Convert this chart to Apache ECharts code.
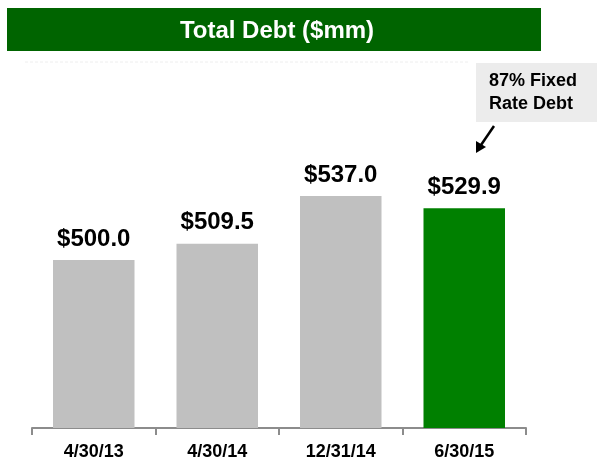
<!DOCTYPE html>
<html><head><meta charset="utf-8">
<script src="https://cdn.jsdelivr.net/npm/echarts@6/dist/echarts.min.js"></script>
<style>html,body{margin:0;padding:0;background:#fff}#c{width:597px;height:465px}</style>
</head><body><div id="c"></div>
<script>
var categories = ['4/30/13', '4/30/14', '12/31/14', '6/30/15'];
var debtValues = [500.0, 509.5, 537.0, 529.9];
var barColors = ['#c0c0c0', '#c0c0c0', '#c0c0c0', '#008000'];
var titleText = 'Total Debt ($mm)';
var noteLines = ['87% Fixed', 'Rate Debt'];

var chart = echarts.init(document.getElementById('c'));
var font = '"Liberation Sans", Arial, sans-serif';
chart.setOption({
  animation: false,
  backgroundColor: '#fff',
  grid: { left: 32, right: 71, top: 87, bottom: 37 },
  xAxis: {
    type: 'category',
    data: categories,
    axisLine: { lineStyle: { color: '#8c8c8c', width: 2 } },
    axisTick: { show: true, length: 7, lineStyle: { color: '#8c8c8c', width: 2 } },
    axisLabel: { color: '#000', fontFamily: font, fontWeight: 'bold', fontSize: 18, margin: 15 }
  },
  yAxis: { type: 'value', min: 403, max: 600, show: false, splitLine: { show: false } },
  series: [{
    type: 'bar',
    barCategoryGap: '34%',
    data: debtValues.map(function (v, i) { return { value: v, itemStyle: { color: barColors[i] } }; }),
    label: {
      show: true, position: 'top', distance: 9,
      formatter: function (p) { return '$' + p.value.toFixed(1); },
      color: '#000', fontFamily: font, fontWeight: 'bold', fontSize: 24
    }
  }],
  graphic: [
    { type: 'rect', shape: { x: 7, y: 8, width: 534, height: 43 }, style: { fill: '#006400' } },
    { type: 'text', x: 277, y: 31, style: { text: titleText, fill: '#fff', font: 'bold 24px ' + font, textAlign: 'center', textVerticalAlign: 'middle' } },
    { type: 'line', shape: { x1: 25, y1: 62, x2: 470, y2: 62 }, style: { stroke: '#eeeeee', lineWidth: 1, lineDash: [3, 2] } },
    { type: 'rect', shape: { x: 476, y: 63, width: 121, height: 59 }, style: { fill: '#ececec' } },
    { type: 'text', x: 489, y: 81, style: { text: noteLines[0], fill: '#000', font: 'bold 18px ' + font, textVerticalAlign: 'middle' } },
    { type: 'text', x: 489, y: 104, style: { text: noteLines[1], fill: '#000', font: 'bold 18px ' + font, textVerticalAlign: 'middle' } },
    { type: 'line', shape: { x1: 494, y1: 126, x2: 481, y2: 145 }, style: { stroke: '#000', lineWidth: 2.5 } },
    { type: 'polygon', shape: { points: [[476, 153], [476, 141], [486, 147]] }, style: { fill: '#000' } }
  ]
});
</script></body></html>
